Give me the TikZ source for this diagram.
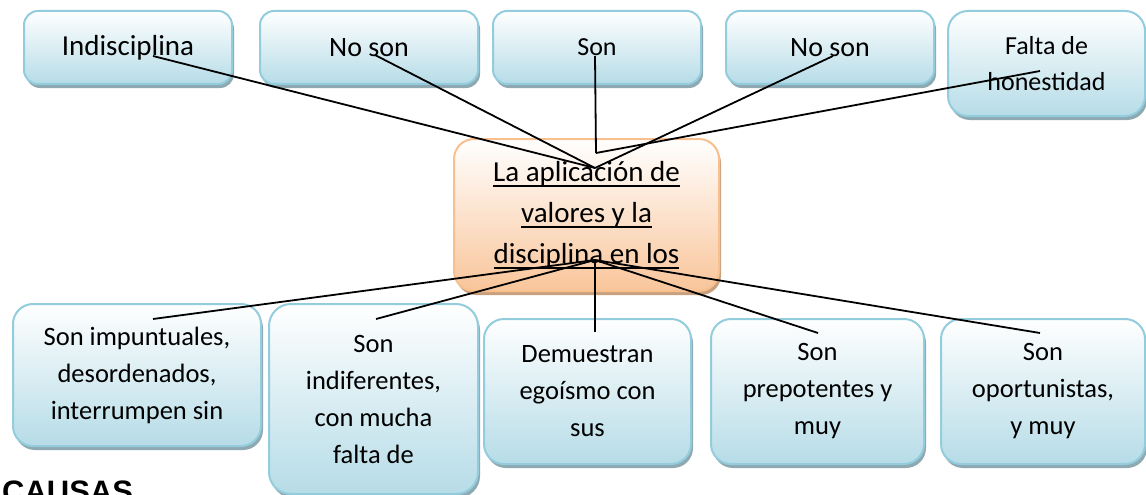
\documentclass[tikz,border=0pt]{standalone}
\usepackage{fontspec}
\setmainfont{Carlito}
\newfontfamily\causasfont{Liberation Sans}
\usetikzlibrary{shadows}
\definecolor{bborder}{HTML}{93CDDD}
\definecolor{bfill}{HTML}{B6DCE7}
\definecolor{bshadow}{HTML}{8FA9B2}
\definecolor{oborder}{HTML}{F9C08F}
\definecolor{ofill}{HTML}{F9C59A}
\definecolor{oshadow}{HTML}{C9A07E}
\newcommand\ulline[1]{\setbox0\hbox{#1}\rlap{\rule[-5pt]{\wd0}{2pt}}\box0}
\tikzset{
  bluebox/.style={draw=bborder, line width=2pt, top color=white, bottom color=bfill,
    rounded corners=#1, anchor=north west, inner sep=0pt, align=center,
    drop shadow={shadow xshift=2pt, shadow yshift=-4pt, fill=bshadow, opacity=1}},
  bluebox/.default=14pt,
  orangebox/.style={draw=oborder, line width=2pt, top color=white, bottom color=ofill,
    rounded corners=20pt, anchor=north west, inner sep=0pt, align=center,
    drop shadow={shadow xshift=2pt, shadow yshift=-4pt, fill=oshadow, opacity=1}},
  conn/.style={line width=1.8pt, black},
  ftop/.style={font=\fontsize{#1}{36}\selectfont},
  fbot/.style={font=\fontsize{26.5}{37}\selectfont},
}
\begin{document}
\begin{tikzpicture}[x=1pt, y=-1pt]
\useasboundingbox (0,0) rectangle (1146,495);
\clip (0,0) rectangle (1146,495);
\fill[white] (0,0) rectangle (1146,495);
% top boxes
\node[bluebox, minimum width=208pt, minimum height=73pt, ftop=29] (t1) at (23,10) {Indisciplina};
\node[bluebox, minimum width=218pt, minimum height=73pt, ftop=28] (t2) at (259,10) {No son};
\node[bluebox, minimum width=208pt, minimum height=73pt, ftop=26] (t3) at (492,10) {Son};
\node[bluebox, minimum width=208pt, minimum height=73pt, ftop=28] (t4) at (725,10) {No son};
\node[bluebox=20pt, minimum width=197pt, minimum height=105pt, ftop=26] (t5) at (947,10) {Falta de\\honestidad};
% center box
\node[orangebox, minimum width=265pt, minimum height=152pt, font=\fontsize{29}{41}\selectfont] (c) at (453,138)
  {\ulline{La aplicación de}\\\ulline{valores y la}\\\ulline{disciplina en los}};
% bottom boxes
\node[bluebox=20pt, minimum width=248pt, minimum height=142pt, fbot] (b1) at (12,303) {Son impuntuales,\\desordenados,\\interrumpen sin};
\node[bluebox=22pt, minimum width=209pt, minimum height=190pt, fbot] (b2) at (268,303) {Son\\indiferentes,\\con mucha\\falta de};
\node[bluebox=20pt, minimum width=207pt, minimum height=145pt, fbot] (b3) at (483,318) {Demuestran\\egoísmo con\\sus};
\node[bluebox=20pt, minimum width=213pt, minimum height=145pt, fbot] (b4) at (710,318) {Son\\prepotentes y\\muy};
\node[bluebox=20pt, minimum width=204pt, minimum height=145pt, fbot] (b5) at (940,318) {Son\\oportunistas,\\y muy};
% CAUSAS
\node[anchor=base west, inner sep=0pt, font=\causasfont\bfseries\fontsize{31}{31}\selectfont] (causas) at (2,502) {CAUSAS};
% connector coordinates
\coordinate (ctop) at (595,168);
\coordinate (ctop2) at (596,153);
\coordinate (cbot) at (595,260);
\coordinate (t1p) at (153,56);
\coordinate (t2p) at (375,55);
\coordinate (t3p) at (595,56);
\coordinate (t4p) at (833,56);
\coordinate (t5p) at (1040,71);
\coordinate (b1p) at (153,319);
\coordinate (b2p) at (376,319);
\coordinate (b3p) at (595,332);
\coordinate (b4p) at (818,333);
\coordinate (b5p) at (1040,333);
% connectors
\draw[conn] (t1p) -- (ctop);
\draw[conn] (t2p) -- (ctop);
\draw[conn] (t3p) -- (ctop2);
\draw[conn] (t4p) -- (ctop);
\draw[conn] (t5p) -- (ctop2);
\draw[conn] (b1p) -- (cbot);
\draw[conn] (b2p) -- (cbot);
\draw[conn] (b3p) -- (cbot);
\draw[conn] (b4p) -- (cbot);
\draw[conn] (b5p) -- (cbot);
\end{tikzpicture}
\end{document}
